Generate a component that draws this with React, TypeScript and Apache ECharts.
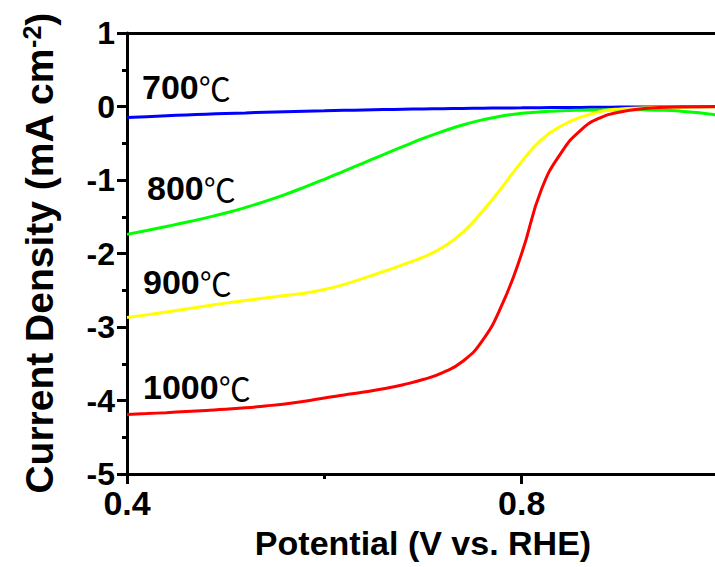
import React, { useEffect, useRef } from "react";
import * as echarts from "echarts";

// Potential (V vs. RHE) sample points shared by all four sweeps
const potential = [
  0.4, 0.42, 0.44, 0.46, 0.48, 0.5, 0.52, 0.54, 0.56, 0.58, 0.6, 0.62, 0.64,
  0.66, 0.68, 0.7, 0.72, 0.74, 0.76, 0.78, 0.8, 0.82, 0.84, 0.86, 0.88, 0.9,
  0.92, 0.94, 0.96, 0.98, 1.0,
];

// Current density (mA cm-2) for each annealing temperature
const current700 = [
  -0.15, -0.138, -0.126, -0.115, -0.105, -0.095, -0.087, -0.079, -0.071,
  -0.064, -0.058, -0.052, -0.047, -0.042, -0.037, -0.033, -0.029, -0.026,
  -0.023, -0.02, -0.018, -0.016, -0.014, -0.012, -0.01, -0.008, -0.007,
  -0.006, -0.005, -0.004, -0.004,
];
const current800 = [
  -1.74, -1.688, -1.633, -1.576, -1.515, -1.45, -1.375, -1.29, -1.198, -1.097,
  -0.99, -0.878, -0.766, -0.654, -0.543, -0.435, -0.338, -0.252, -0.182,
  -0.128, -0.092, -0.072, -0.059, -0.051, -0.046, -0.044, -0.045, -0.05,
  -0.062, -0.085, -0.12,
];
const current900 = [
  -2.87, -2.835, -2.795, -2.755, -2.715, -2.675, -2.64, -2.605, -2.57, -2.54,
  -2.49, -2.42, -2.335, -2.245, -2.15, -2.05, -1.915, -1.715, -1.43, -1.1,
  -0.75, -0.45, -0.265, -0.145, -0.068, -0.033, -0.02, -0.013, -0.009, -0.007,
  -0.005,
];
const current1000 = [
  -4.19, -4.178, -4.165, -4.15, -4.135, -4.12, -4.1, -4.075, -4.047, -4.01,
  -3.965, -3.925, -3.885, -3.84, -3.785, -3.715, -3.62, -3.47, -3.19, -2.7,
  -2.0, -1.13, -0.63, -0.32, -0.15, -0.075, -0.035, -0.015, -0.006, -0.002,
  0.0,
];

const sweepNames = ["700℃", "800℃", "900℃", "1000℃"];
const sweepColors = ["#0000ff", "#00ff00", "#ffff00", "#ff0000"];
const sweeps = [current700, current800, current900, current1000];

const FONT = "'Liberation Sans', Arial, Helvetica, sans-serif";

export default function App() {
  const ref = useRef<HTMLDivElement>(null);

  useEffect(() => {
    if (!ref.current) return;
    const chart = echarts.init(ref.current, undefined, { renderer: "svg" });

    const axisLine = { show: true, onZero: false, lineStyle: { color: "#000", width: 3 } };

    const labelRich = {
      n: { fontFamily: FONT, fontWeight: "bold" as const, fontSize: 34, color: "#000" },
      c: {
        fontFamily: "'Noto Sans CJK SC', sans-serif",
        fontWeight: "normal" as const,
        fontSize: 32,
        color: "#000",
      },
    };
    // curve labels placed beside the left end of each sweep
    const labelPos = [
      [142, 87],
      [147, 188],
      [143, 282],
      [143, 387],
    ];

    chart.setOption({
      animation: false,
      backgroundColor: "#fff",
      grid: {
        left: 127,
        top: 33,
        width: 592,
        height: 441,
        containLabel: false,
        outerBoundsMode: "none",
      },
      xAxis: [
        {
          type: "value",
          min: 0.4,
          max: 1.0,
          interval: 0.4,
          name: "Potential (V vs. RHE)",
          nameLocation: "middle",
          nameGap: 52,
          nameTextStyle: { fontFamily: FONT, fontWeight: "bold", fontSize: 34, color: "#000" },
          axisLine,
          axisTick: { show: true, inside: false, length: 10, lineStyle: { color: "#000", width: 3 } },
          minorTick: { show: true, splitNumber: 2, length: 5, lineStyle: { color: "#000", width: 3 } },
          splitLine: { show: false },
          axisLabel: {
            margin: 12,
            fontFamily: FONT,
            fontWeight: "bold",
            fontSize: 34,
            color: "#000",
            showMaxLabel: false,
            formatter: (v: number) => v.toFixed(1),
          },
        },
        {
          type: "value",
          position: "top",
          min: 0.4,
          max: 1.0,
          interval: 0.4,
          axisLine,
          axisTick: { show: false },
          axisLabel: { show: false },
          splitLine: { show: false },
        },
      ],
      yAxis: {
        type: "value",
        min: -5,
        max: 1,
        interval: 1,
        name: "Current Density (mA cm{sup|-2})",
        nameLocation: "middle",
        nameGap: 68,
        nameTextStyle: {
          fontFamily: FONT,
          fontWeight: "bold",
          fontSize: 39,
          color: "#000",
          lineHeight: 40,
          rich: {
            sup: {
              fontFamily: FONT,
              fontWeight: "bold",
              fontSize: 25,
              color: "#000",
              verticalAlign: "top",
              lineHeight: 40,
            },
          },
        },
        axisLine,
        axisTick: { show: true, inside: false, length: 10, lineStyle: { color: "#000", width: 3 } },
        minorTick: { show: true, splitNumber: 2, length: 5, lineStyle: { color: "#000", width: 3 } },
        splitLine: { show: false },
        axisLabel: {
          margin: 12,
          fontFamily: FONT,
          fontWeight: "bold",
          fontSize: 32,
          color: "#000",
        },
      },
      series: sweeps.map((ys, i) => ({
        name: sweepNames[i],
        type: "line",
        xAxisIndex: 0,
        showSymbol: false,
        smooth: 0.5,
        clip: true,
        lineStyle: { color: sweepColors[i], width: 3 },
        data: potential.map((x, k) => [x, ys[k]]),
      })),
      graphic: sweepNames.map((name, i) => ({
        type: "text",
        x: labelPos[i][0],
        y: labelPos[i][1],
        style: {
          text: `{n|${name.replace("℃", "")}}{c|℃}`,
          rich: labelRich,
          verticalAlign: "middle",
          align: "left",
        },
      })),
    });

    return () => chart.dispose();
  }, []);

  return (
    <div
      ref={ref}
      style={{ position: "absolute", left: 0, top: 0, width: 715, height: 567 }}
    />
  );
}
